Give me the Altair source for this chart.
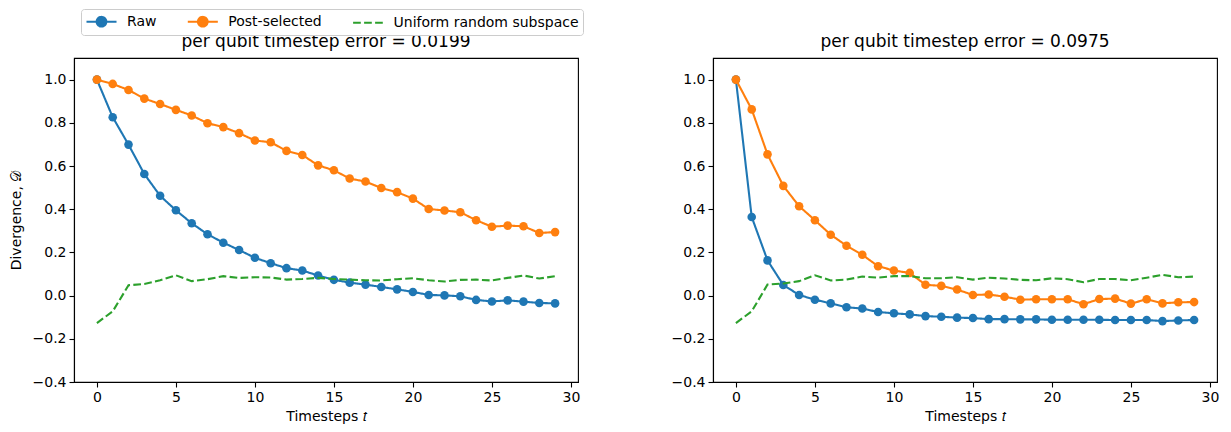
import altair as alt
import pandas as pd

timesteps = list(range(30))
series_names = ["Raw", "Post-selected", "Uniform random subspace"]
series_colors = ["#1f77b4", "#ff7f0e", "#2ca02c"]
panel_titles = ["per qubit timestep error = 0.0199", "per qubit timestep error = 0.0975"]
x_ticks = [0, 5, 10, 15, 20, 25, 30]
y_ticks = [-0.4, -0.2, 0.0, 0.2, 0.4, 0.6, 0.8, 1.0]

raw_left = [1.0, 0.826, 0.699, 0.563, 0.462, 0.395, 0.335, 0.284, 0.245, 0.211,
            0.175, 0.150, 0.127, 0.116, 0.093, 0.073, 0.060, 0.051, 0.040, 0.029,
            0.017, 0.003, 0.001, -0.003, -0.020, -0.027, -0.022, -0.028, -0.034, -0.036]
post_left = [1.0, 0.980, 0.952, 0.912, 0.887, 0.860, 0.834, 0.798, 0.780, 0.752,
             0.718, 0.710, 0.670, 0.651, 0.603, 0.580, 0.542, 0.528, 0.498, 0.479,
             0.449, 0.401, 0.394, 0.386, 0.349, 0.319, 0.324, 0.321, 0.290, 0.294]
uniform_left = [-0.127, -0.073, 0.048, 0.054, 0.071, 0.094, 0.067, 0.076, 0.090, 0.082,
                0.085, 0.084, 0.074, 0.077, 0.082, 0.077, 0.074, 0.071, 0.070, 0.076,
                0.080, 0.071, 0.065, 0.073, 0.074, 0.070, 0.082, 0.093, 0.079, 0.090]
raw_right = [1.0, 0.364, 0.163, 0.049, 0.003, -0.019, -0.036, -0.054, -0.060, -0.076,
             -0.082, -0.087, -0.095, -0.098, -0.102, -0.104, -0.109, -0.109, -0.110, -0.110,
             -0.112, -0.112, -0.112, -0.112, -0.113, -0.113, -0.113, -0.118, -0.115, -0.113]
post_right = [1.0, 0.862, 0.654, 0.508, 0.414, 0.349, 0.282, 0.231, 0.189, 0.136,
              0.116, 0.105, 0.050, 0.045, 0.028, 0.003, 0.005, -0.005, -0.019, -0.017,
              -0.017, -0.017, -0.040, -0.016, -0.014, -0.037, -0.017, -0.036, -0.031, -0.030]
uniform_right = [-0.127, -0.073, 0.051, 0.056, 0.067, 0.094, 0.070, 0.074, 0.088, 0.083,
                 0.090, 0.090, 0.080, 0.080, 0.085, 0.074, 0.083, 0.079, 0.073, 0.071,
                 0.080, 0.076, 0.062, 0.077, 0.077, 0.071, 0.083, 0.096, 0.085, 0.088]

FONT = "DejaVu Sans"
# legend handles: 14px symbol box (unit = 7px); line runs 30px to the right of the box start
LINE_CIRCLE = ("M-1,0L3.29,0"
               "M0.45,0A0.69,0.69,0,1,1,1.83,0A0.69,0.69,0,1,1,0.45,0Z")
LINE_ONLY = "M-1,0L3.29,0"


def make_df(raw, post, uni):
    rows = []
    for name, vals in zip(series_names, [raw, post, uni]):
        for t, v in zip(timesteps, vals):
            rows.append({"t": t, "value": v, "series": name})
    return pd.DataFrame(rows)


LEGEND = alt.Legend(title=None, orient="none", legendX=7, legendY=-49,
                    direction="horizontal", symbolSize=196, symbolStrokeWidth=2.1,
                    labelFontSize=14, labelFont=FONT, labelColor="black",
                    labelOffset=25, columnPadding=26.3, padding=4, labelLimit=400,
                    fillColor="white", strokeColor="#cccccc", cornerRadius=3,
                    symbolOpacity=1)


def panel(df, title, show_ytitle):
    base = alt.Chart(df)
    x = alt.X("t:Q", scale=alt.Scale(domain=[-1.45, 30.45], nice=False, zero=False),
              axis=alt.Axis(values=x_ticks, title="Timesteps 𝑡", format="d"))
    y = alt.Y("value:Q", scale=alt.Scale(domain=[-0.4, 1.1], nice=False, zero=False),
              axis=alt.Axis(values=y_ticks, format=".1f",
                            title="Divergence, 𝒟" if show_ytitle else None))
    color = alt.Color("series:N", scale=alt.Scale(domain=series_names, range=series_colors), legend=LEGEND)
    shape = alt.Shape("series:N", scale=alt.Scale(domain=series_names, range=[LINE_CIRCLE, LINE_CIRCLE, LINE_ONLY]), legend=LEGEND)
    dash = alt.StrokeDash("series:N", scale=alt.Scale(domain=series_names, range=[[1, 0], [1, 0], [7.7, 3.3]]), legend=LEGEND)

    layers = [base.transform_filter("false").mark_point(filled=True).encode(x=x, y=y, color=color, shape=shape)]
    for name in series_names:
        sub = base.transform_filter(alt.datum.series == name)
        layers.append(sub.mark_line(strokeWidth=2.1).encode(x=x, y=y, color=color, strokeDash=dash))
        if name != "Uniform random subspace":
            layers.append(sub.mark_point(filled=True, size=74, opacity=1).encode(x=x, y=y, color=color))
    return alt.layer(*layers).properties(
        width=504, height=324,
        title=alt.Title(title, fontSize=17, fontWeight="normal", font=FONT, color="black", offset=7),
    )


left = panel(make_df(raw_left, post_left, uniform_left), panel_titles[0], True)
right = panel(make_df(raw_right, post_right, uniform_right), panel_titles[1], False)

chart = alt.hconcat(left, right, spacing=135, bounds="flush").resolve_scale(
    color="shared", shape="shared", strokeDash="shared"
).resolve_legend(
    color="shared", shape="shared", strokeDash="shared"
).properties(padding=0).configure_view(
    stroke="black", strokeWidth=1.1
).configure_axis(
    grid=False, domainColor="black", domainWidth=1.1, tickColor="black", tickWidth=1.1,
    tickSize=5, labelFont=FONT, labelFontSize=14, labelColor="black", labelPadding=3,
    titleFont=FONT, titleFontSize=14, titleFontWeight="normal", titleColor="black",
    titlePadding=5
).configure_axisY(titlePadding=9)

chart.save("out.html", embed_options={"renderer": "svg", "actions": False})
